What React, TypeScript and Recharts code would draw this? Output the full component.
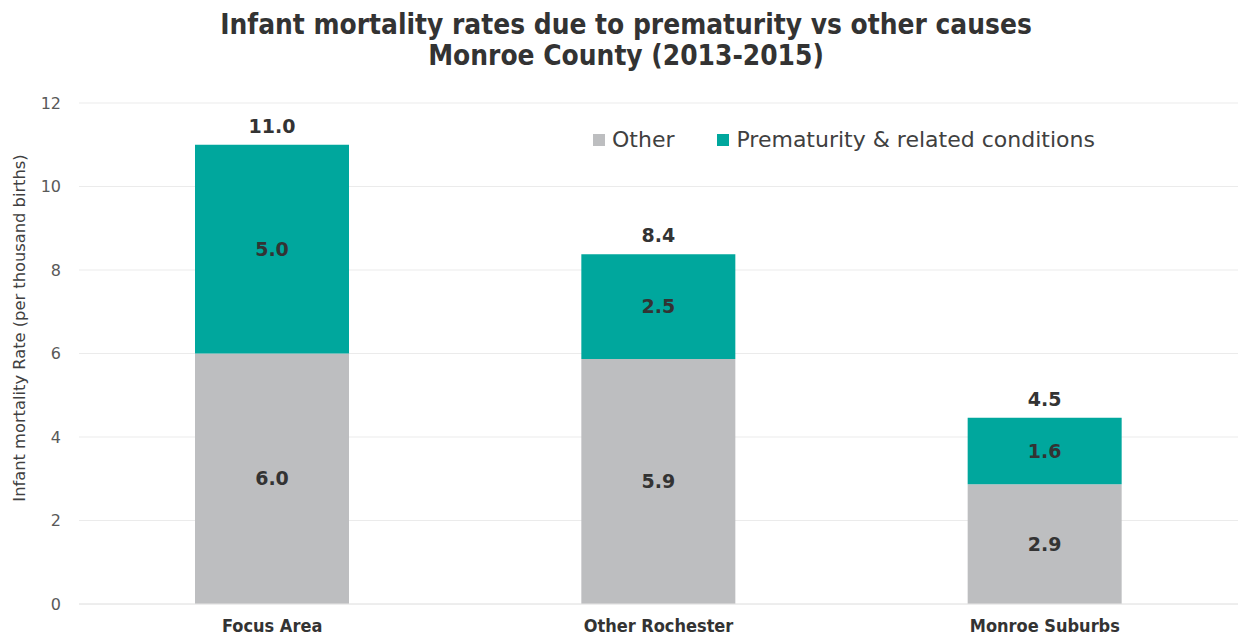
import React from "react";
import { BarChart, Bar, XAxis, YAxis, CartesianGrid, LabelList } from "recharts";

const areas = ["Focus Area", "Other Rochester", "Monroe Suburbs"];
const otherRates = [6.0, 5.87, 2.87];
const prematurityRates = [5.0, 2.51, 1.59];

const GRAY = "#BDBEC0";
const TEAL = "#00A79D";
const FONT = "Verdana, 'DejaVu Sans', sans-serif";
const CONDENSED = "'DejaVu Sans Condensed', 'DejaVu Sans', sans-serif";

const data = areas.map((area, i) => ({
  area,
  other: otherRates[i],
  prematurity: prematurityRates[i],
  total: otherRates[i] + prematurityRates[i],
}));

const fmt = (v: any) => Number(v).toFixed(1);

const legendItems = [
  { label: "Other", color: GRAY },
  { label: "Prematurity & related conditions", color: TEAL },
];

function ChartLegend() {
  return (
    <div
      style={{
        position: "absolute",
        top: 126,
        left: 593,
        display: "flex",
        gap: 43,
        fontFamily: FONT,
        fontSize: 22,
        lineHeight: "28px",
        color: "#404040",
        whiteSpace: "nowrap",
      }}
    >
      {legendItems.map((it) => (
        <div key={it.label} style={{ display: "flex", alignItems: "center" }}>
          <span style={{ width: 12, height: 12, background: it.color, marginRight: 7, display: "inline-block" }} />
          {it.label}
        </div>
      ))}
    </div>
  );
}

const yLabel = () => (
  <text
    transform="translate(25,328) rotate(-90)"
    textAnchor="middle"
    style={{ fontFamily: FONT, fontSize: 16.3, fill: "#404040" }}
  >
    Infant mortality Rate (per thousand births)
  </text>
);

export default function App() {
  return (
    <div style={{ position: "absolute", left: 0, top: 0, width: 1238, height: 637, background: "#fff" }}>
      <div
        style={{
          position: "absolute",
          top: 9,
          left: 7,
          width: 1238,
          textAlign: "center",
          fontFamily: CONDENSED,
          fontWeight: "bold",
          fontSize: 27.8,
          lineHeight: "31px",
          color: "#333",
          zIndex: 1,
        }}
      >
        Infant mortality rates due to prematurity vs other causes
        <br />
        Monroe County (2013-2015)
      </div>
      <BarChart
        width={1238}
        height={637}
        data={data}
        margin={{ top: 103, right: 0, bottom: 0, left: 0 }}
        barSize={154}
      >
        <CartesianGrid vertical={false} stroke="#EBEBEB" />
        <XAxis
          dataKey="area"
          height={33}
          tickLine={false}
          axisLine={{ stroke: "#E6E6E6" }}
          tick={{ fontFamily: CONDENSED, fontWeight: "bold", fontSize: 18, fill: "#333" }}
          tickMargin={9}
        />
        <YAxis
          width={79}
          domain={[0, 12]}
          ticks={[0, 2, 4, 6, 8, 10, 12]}
          axisLine={false}
          tickLine={false}
          tickMargin={12}
          tick={{ fontFamily: FONT, fontSize: 16, fill: "#595959" }}
          label={{ content: yLabel }}
        />
        <Bar dataKey="other" stackId="a" fill={GRAY} isAnimationActive={false}>
          <LabelList
            dataKey="other"
            position="center"
            formatter={fmt}
            style={{ fontFamily: FONT, fontWeight: "bold", fontSize: 19, fill: "#333" }}
          />
        </Bar>
        <Bar dataKey="prematurity" stackId="a" fill={TEAL} isAnimationActive={false}>
          <LabelList
            dataKey="prematurity"
            position="center"
            formatter={fmt}
            style={{ fontFamily: FONT, fontWeight: "bold", fontSize: 19, fill: "#333" }}
          />
          <LabelList
            dataKey="total"
            position="top"
            offset={12}
            formatter={fmt}
            style={{ fontFamily: FONT, fontWeight: "bold", fontSize: 19, fill: "#333" }}
          />
        </Bar>
      </BarChart>
      <ChartLegend />
    </div>
  );
}
